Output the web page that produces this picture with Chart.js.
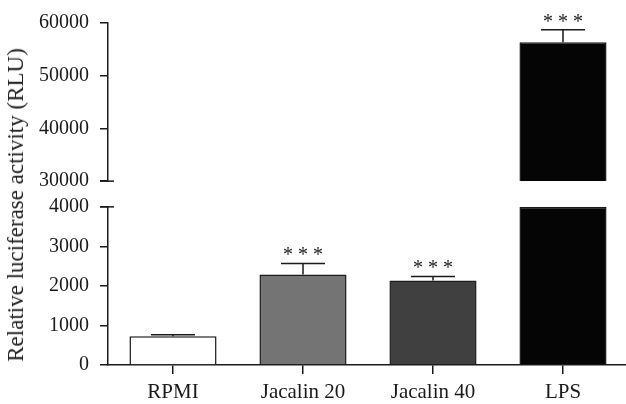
<!DOCTYPE html>
<html><head><meta charset="utf-8">
<script src="https://cdn.jsdelivr.net/npm/chart.js@4"></script>
<style>
html,body{margin:0;padding:0;overflow:hidden;background:#fff;width:626px;height:404px;}
#wrap{position:absolute;left:0;top:0;width:630px;height:404px;}
#ytitle{position:absolute;left:16px;top:205px;transform:translate(-50%,-50%) rotate(-90deg);white-space:nowrap;font-family:'Liberation Serif',serif;font-size:23px;color:#222;}
</style></head>
<body>
<div id="wrap"><canvas id="c"></canvas></div>
<div id="ytitle">Relative luciferase activity (RLU)</div>
<script>
const categories = ['RPMI', 'Jacalin 20', 'Jacalin 40', 'LPS'];
const values = [725, 2290, 2140, 56350];
const errorTops = [765, 2570, 2240, 58700];
const significance = ['', '***', '***', '***'];
const barColors = ['#ffffff', '#747474', '#404040', '#050505'];
const lowRange = [0, 4000];
const highRange = [30000, 60000];
const lowStep = 1000;
const highStep = 10000;

const FONT = {family: "'Liberation Serif', serif", size: 20};
const XFONT = {family: "'Liberation Serif', serif", size: 21};
const INK = '#1a1a1a';

const lowData = values.map(v => Math.min(v, lowRange[1]));
const highData = values.map(v => v > highRange[0] ? [highRange[0], v] : null);

const fixW = s => { s.width = 108; };

const errorPlugin = {
  id: 'errorBars',
  afterDatasetsDraw(chart) {
    const {ctx} = chart;
    const xs = chart.scales.x;
    ctx.save();
    ctx.strokeStyle = INK;
    ctx.lineWidth = 1.5;
    values.forEach((v, i) => {
      const ys = v > lowRange[1] ? chart.scales.yHigh : chart.scales.yLow;
      const cx = xs.getPixelForValue(i);
      const yb = ys.getPixelForValue(v);
      const yt = ys.getPixelForValue(errorTops[i]);
      ctx.beginPath();
      ctx.moveTo(cx, yb); ctx.lineTo(cx, yt);
      ctx.moveTo(cx - 22, yt); ctx.lineTo(cx + 22, yt);
      ctx.stroke();
      if (significance[i]) {
        ctx.fillStyle = INK;
        ctx.font = "20px 'Liberation Serif', serif";
        ctx.textAlign = 'center';
        ctx.textBaseline = 'alphabetic';
        ctx.fillText(significance[i].split('').join(' '), cx, yt - 2);
      }
    });
    // axis break marks
    const yh = chart.scales.yHigh, yl = chart.scales.yLow;
    const ax = yl.right;
    [yh.getPixelForValue(highRange[0]), yl.getPixelForValue(lowRange[1])].forEach(py => {
      ctx.beginPath(); ctx.moveTo(ax - 8, py); ctx.lineTo(ax + 6, py); ctx.stroke();
    });
    ctx.restore();
  }
};

const yCommon = {
  type: 'linear',
  position: 'left',
  stack: 'v',
  grid: {drawOnChartArea: false, drawTicks: true, tickLength: 8, color: INK, lineWidth: 1.5},
  border: {display: true, color: INK, width: 1.5},
  ticks: {font: FONT, color: INK, padding: 11, autoSkip: false, callback: v => String(v)},
  afterFit: fixW
};

new Chart(document.getElementById('c'), {
  type: 'bar',
  data: {
    labels: categories,
    datasets: [
      {data: lowData, yAxisID: 'yLow', backgroundColor: barColors, borderColor: INK, borderWidth: 1.5,
       barPercentage: 0.67, categoryPercentage: 1, grouped: false},
      {data: highData, yAxisID: 'yHigh', backgroundColor: barColors, borderColor: INK, borderWidth: 1.5,
       barPercentage: 0.67, categoryPercentage: 1, grouped: false, borderSkipped: 'start'}
    ]
  },
  options: {
    responsive: true,
    maintainAspectRatio: false,
    animation: false,
    layout: {padding: {top: 19, right: 2, left: 0, bottom: 0}},
    plugins: {legend: {display: false}, tooltip: {enabled: false}},
    scales: {
      x: {
        type: 'category',
        grid: {display: true, drawOnChartArea: false, drawTicks: true, tickLength: 9, offset: false, color: INK, lineWidth: 1.5},
        border: {display: true, color: INK, width: 1.5},
        ticks: {font: XFONT, color: INK, padding: 6, maxRotation: 0},
        afterFit: s => { s.height = 39; }
      },
      yLow: Object.assign({}, yCommon, {
        stackWeight: 160, min: lowRange[0], max: lowRange[1],
        ticks: Object.assign({}, yCommon.ticks, {stepSize: lowStep})
      }),
      ySpacer: {
        type: 'linear', position: 'left', stack: 'v', stackWeight: 26, display: true,
        grid: {display: false}, border: {display: false}, ticks: {display: false},
        afterFit: fixW
      },
      yHigh: Object.assign({}, yCommon, {
        stackWeight: 160, min: highRange[0], max: highRange[1],
        ticks: Object.assign({}, yCommon.ticks, {stepSize: highStep})
      })
    }
  },
  plugins: [errorPlugin]
});
</script>
</body></html>
